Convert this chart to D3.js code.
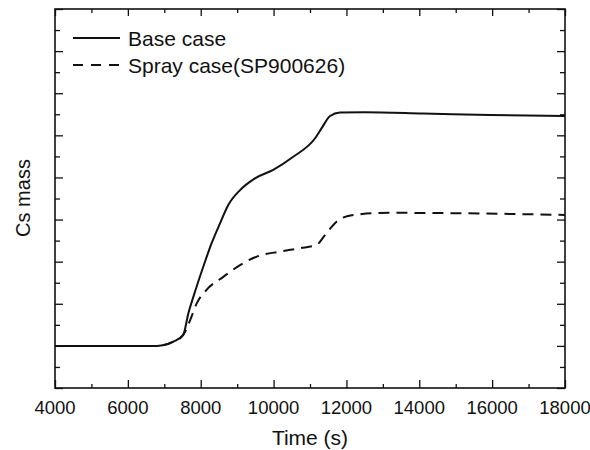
<!DOCTYPE html>
<html>
<head>
<meta charset="utf-8">
<script src="https://cdn.jsdelivr.net/npm/d3@7"></script>
<style>
  body { margin: 0; background: #fff; }
  text { font-family: "Liberation Sans", Arial, sans-serif; fill: #111; }
</style>
</head>
<body>
<svg id="chart" width="590" height="450"></svg>
<script>
// data (y in arbitrary units, axis has no labels)
var baseTime = [4000, 6300, 6800, 7250, 7520, 7660, 7800, 8070, 8300, 8530, 8760, 9080,
                9490, 9990, 10540, 11140, 11320, 11550, 11820, 12500, 14100, 15940, 18000];
var baseMass = [1.0, 1.0, 1.0, 1.10, 1.26, 1.77, 2.17, 2.88, 3.44, 3.91, 4.35, 4.70,
                4.98, 5.18, 5.49, 5.93, 6.17, 6.46, 6.54, 6.55, 6.52, 6.48, 6.46];

var sprayTime = [4000, 6800, 7250, 7520, 7710, 7890, 8160, 8620, 9080, 9540, 10180,
                 10730, 11180, 11410, 11730, 12190, 13200, 15030, 18000];
var sprayMass = [1.0, 1.0, 1.10, 1.26, 1.61, 2.01, 2.33, 2.64, 2.92, 3.12, 3.24,
                 3.32, 3.40, 3.63, 3.95, 4.11, 4.16, 4.15, 4.11];

var xTicks = [4000, 6000, 8000, 10000, 12000, 14000, 16000, 18000];
var seriesNames = ['Base case', 'Spray case(SP900626)'];

/////// Layout

var svg = d3.select('#chart');
var plotL = 55, plotR = 565, plotT = 9, plotB = 388;

var x = d3.scaleLinear().domain([4000, 18000]).range([plotL, plotR]);
var y = d3.scaleLinear().domain([0, 9]).range([plotB, plotT]);

var minorX = d3.range(4000, 18001, 1000);
var minorY = d3.range(0, 9.01, 0.5);

/////// Axes (ticks point inwards on all four sides)

var isMajorX = function (d) { return d % 2000 === 0; };
var isMajorY = function (d) { return d % 1 === 0; };

svg.append('g')
    .attr('transform', 'translate(0,' + plotB + ')')
    .call(d3.axisBottom(x).tickValues(minorX).tickSizeOuter(0).tickFormat(''))
    .call(function (g) {
      g.select('.domain').remove();
      g.selectAll('.tick line')
          .attr('y2', function (d) { return isMajorX(d) ? -8 : -4; })
          .attr('stroke', '#111').attr('stroke-width', 1.3);
    });

svg.append('g')
    .attr('transform', 'translate(0,' + plotT + ')')
    .call(d3.axisTop(x).tickValues(minorX).tickSizeOuter(0).tickFormat(''))
    .call(function (g) {
      g.select('.domain').remove();
      g.selectAll('.tick line')
          .attr('y2', function (d) { return isMajorX(d) ? 7 : 4; })
          .attr('stroke', '#111').attr('stroke-width', 1.3);
    });

svg.append('g')
    .attr('transform', 'translate(' + plotL + ',0)')
    .call(d3.axisLeft(y).tickValues(minorY).tickSizeOuter(0).tickFormat(''))
    .call(function (g) {
      g.select('.domain').remove();
      g.selectAll('.tick line')
          .attr('x2', function (d) { return isMajorY(d) ? 8 : 5; })
          .attr('stroke', '#111').attr('stroke-width', 1.3);
    });

svg.append('g')
    .attr('transform', 'translate(' + plotR + ',0)')
    .call(d3.axisRight(y).tickValues(minorY).tickSizeOuter(0).tickFormat(''))
    .call(function (g) {
      g.select('.domain').remove();
      g.selectAll('.tick line')
          .attr('x2', function (d) { return isMajorY(d) ? -8 : -5; })
          .attr('stroke', '#111').attr('stroke-width', 1.3);
    });

// tick labels
svg.append('g').selectAll('text')
    .data(xTicks)
  .enter().append('text')
    .attr('x', function (d) { return x(d); })
    .attr('y', 414)
    .attr('text-anchor', 'middle')
    .attr('font-size', 18.5)
    .text(function (d) { return d; });

// frame
svg.append('rect')
    .attr('x', plotL).attr('y', plotT)
    .attr('width', plotR - plotL).attr('height', plotB - plotT)
    .attr('fill', 'none')
    .attr('stroke', '#111')
    .attr('stroke-width', 1.6);

// axis titles
svg.append('text')
    .attr('x', 310).attr('y', 445)
    .attr('text-anchor', 'middle')
    .attr('font-size', 21)
    .text('Time (s)');

svg.append('text')
    .attr('transform', 'translate(30,198) rotate(-90)')
    .attr('text-anchor', 'middle')
    .attr('font-size', 20)
    .text('Cs mass');

/////// Lines

svg.append('clipPath').attr('id', 'clip')
  .append('rect')
    .attr('x', plotL).attr('y', plotT)
    .attr('width', plotR - plotL).attr('height', plotB - plotT);

var line = d3.line()
    .x(function (d) { return x(d[0]); })
    .y(function (d) { return y(d[1]); })
    .curve(d3.curveMonotoneX);

svg.append('path')
    .datum(d3.zip(sprayTime, sprayMass))
    .attr('clip-path', 'url(#clip)')
    .attr('d', line)
    .attr('fill', 'none')
    .attr('stroke', '#111')
    .attr('stroke-width', 2)
    .attr('stroke-dasharray', '11,7');

svg.append('path')
    .datum(d3.zip(baseTime, baseMass))
    .attr('clip-path', 'url(#clip)')
    .attr('d', line)
    .attr('fill', 'none')
    .attr('stroke', '#111')
    .attr('stroke-width', 2);

/////// Legend

var legend = svg.append('g').selectAll('g')
    .data(seriesNames)
  .enter().append('g')
    .attr('transform', function (d, i) { return 'translate(73,' + (38 + i * 27) + ')'; });

legend.append('line')
    .attr('x1', 0).attr('x2', 47)
    .attr('stroke', '#111')
    .attr('stroke-width', 2)
    .attr('stroke-dasharray', function (d, i) { return i ? '10,8' : null; });

legend.append('text')
    .attr('x', 55).attr('y', 8)
    .attr('font-size', 21)
    .text(function (d) { return d; });
</script>
</body>
</html>
